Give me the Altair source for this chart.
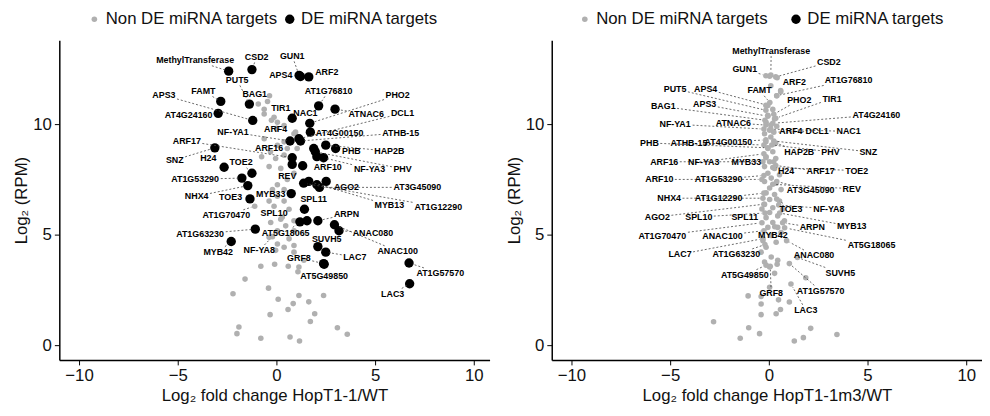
import math
import altair as alt
import pandas as pd

FONT = "Liberation Sans"
X_DOMAIN = [-11, 10.8]
Y_DOMAIN = [-0.67, 13.8]
W, H = 436, 324
CATS = ["Non DE miRNA targets", "DE miRNA targets"]

GENES = ["MethylTransferase", "CSD2", "GUN1", "APS4", "ARF2", "PUT5", "FAMT", "APS3", "BAG1",
         "AT1G76810", "TIR1", "NAC1", "AT4G24160", "PHO2", "ATNAC6", "DCL1", "AT4G00150",
         "ATHB-15", "NF-YA1", "ARF4", "ARF17", "ARF16", "PHB", "HAP2B", "SNZ", "H24", "TOE2",
         "NF-YA3", "PHV", "ARF10", "AT1G53290", "REV", "AGO2", "AT3G45090", "MYB13",
         "AT1G12290", "NHX4", "TOE3", "MYB33", "SPL11", "AT1G70470", "SPL10", "ARPN",
         "ANAC080", "ANAC100", "AT1G63230", "AT5G18065", "SUVH5", "MYB42", "NF-YA8", "GRF8",
         "LAC7", "AT1G57570", "LAC3", "AT5G49850"]

# ---------------- HopT1-1 / WT ----------------
L_FC = [-2.42, -1.24, 1.15, 1.22, 1.64, -1.37, -2.82, -1.20, -0.35,
        2.14, -0.62, 0.80, -2.95, 1.69, 2.97, 1.14, 1.72,
        1.22, 0.69, 0.89, 0.80, -0.30, 3.00, 2.50, -3.12, -2.65, -1.24,
        2.39, 1.97, 2.05, -1.75, 0.55, 2.52, 2.18, 1.64,
        1.38, -1.45, -1.34, 0.75, 1.42, -1.10, 0.30, 2.10,
        3.17, 2.94, -1.07, 1.19, 2.10, -2.29, -0.20, 2.39,
        2.50, 6.72, 6.75, 2.42]
L_RPM = [12.40, 12.47, 12.21, 12.16, 12.14, 10.91, 11.03, 10.17, 11.29,
         10.83, 10.68, 10.27, 10.49, 10.04, 10.68, 9.34, 9.64,
         9.24, 9.24, 9.57, 8.48, 8.75, 8.90, 9.05, 8.93, 8.05, 7.78,
         8.48, 8.75, 8.53, 7.56, 7.50, 7.41, 7.14, 7.41,
         7.33, 7.22, 6.62, 6.86, 6.15, 6.29, 5.80, 5.63,
         5.18, 5.45, 5.25, 5.58, 4.46, 4.69, 4.91, 3.69,
         4.21, 3.72, 2.78, 3.66]
L_DE = [1, 1, 1, 1, 1, 1, 1, 1, 0,
        1, 0, 1, 1, 1, 1, 1, 1,
        1, 1, 0, 1, 0, 1, 1, 1, 1, 1,
        1, 1, 1, 1, 0, 1, 1, 1,
        1, 1, 1, 1, 1, 0, 0, 1,
        1, 1, 1, 1, 1, 1, 0, 1,
        1, 1, 1, 1]
L_LAB_X = [-4.12, -1.00, 0.80, 0.22, 2.55, -1.99, -3.70, -5.70, -1.10,
           2.64, 0.22, 1.47, -4.45, 6.14, 4.55, 6.39, 3.20,
           6.30, -2.20, -0.04, -4.54, -0.37, 3.80, 5.72, -5.15, -3.45, -1.79,
           4.72, 6.39, 2.60, -4.12, 0.55, 3.55, 7.14, 5.72,
           8.20, -4.04, -2.32, -0.29, 1.89, -2.54, -0.12, 3.55,
           4.89, 6.14, -3.87, 0.47, 2.55, -2.95, -0.87, 1.14,
           3.97, 8.30, 5.89, 2.42]
L_LAB_Y = [12.89, 13.04, 13.09, 12.22, 12.35, 12.00, 11.50, 11.31, 11.35,
           11.50, 10.71, 10.50, 10.43, 11.31, 10.46, 10.50, 9.60,
           9.61, 9.64, 9.76, 9.24, 8.93, 8.78, 8.78, 8.38, 8.45, 8.27,
           7.98, 7.98, 8.04, 7.51, 7.67, 7.14, 7.14, 6.33,
           6.26, 6.74, 6.71, 6.86, 6.62, 5.88, 6.00, 5.92,
           5.08, 4.25, 5.03, 5.08, 4.81, 4.21, 4.29, 3.96,
           3.99, 3.25, 2.32, 3.13]
# unlabelled targets
L_OTHER_FC = [0.80, 1.33, 2.05, 1.55, 1.89,
              -0.92, -0.62, -0.12, 0.05, 0.02, 0.39, 0.97, 0.39, 0.05, -0.62, 0.55, 1.05,
              -0.75, -0.04, 0.39, -0.37, 0.22, 0.89, 0.05, 0.39, -0.20, 0.05, -0.37, 0.39,
              -0.12, 0.64, 0.22, 0.89, -0.29, 0.47, 0.05, 0.89, -0.37, 0.64, 0.05, 0.39,
              0.89, -0.04, 0.89, 1.39, 1.14, -0.45, -0.25,
              -0.79, -0.09, 0.60, 1.09, -1.59, -2.20, -0.40, 0.09, 1.14, 0.85, 1.64, 2.39,
              0.59, -0.32, 1.94, 1.72, -1.90, -2.00, -0.79, 0.69, 1.17, 3.09, 3.59]
L_OTHER_RPM = [8.18, 8.12, 7.26, 5.63, 8.90,
               10.91, 10.46, 10.31, 10.09, 9.82, 9.94, 9.64, 9.20, 9.05, 9.34, 8.90, 8.90,
               8.53, 8.45, 8.60, 8.08, 8.00, 7.78, 7.26, 7.04, 7.04, 6.74, 6.52, 6.52,
               6.29, 6.15, 5.70, 5.63, 5.55, 5.40, 5.18, 5.18, 4.88, 4.81, 4.58, 4.43,
               4.51, 4.29, 4.21, 3.84, 3.54, 11.03, 10.18,
               3.57, 3.66, 3.57, 3.32, 2.99, 2.33, 2.58, 2.08, 2.25, 1.88, 1.96, 2.25,
               1.61, 1.38, 1.42, 1.07, 0.82, 0.52, 0.31, 0.37, 0.19, 0.79, 0.49]
L_OTHER_DE = [1, 1, 1, 1, 1] + [0] * 66

# ---------------- HopT1-1m3 / WT ----------------
R_FC = [0.10, 0.35, -0.15, -0.05, 0.60, -0.15, 0.05, -0.05, -0.20,
        0.40, 0.35, 0.10, 0.20, 0.25, -0.15, 0.25, -0.15,
        -0.25, -0.25, 0.40, 0.35, -0.30, -0.05, 0.35, 0.25, 0.25, 0.20,
        -0.25, 0.15, -0.35, -0.25, 0.20, -0.25, 0.40, 0.55,
        -0.25, -0.30, 0.40, -0.15, -0.35, -0.35, -0.20, 0.70,
        0.90, -0.25, -0.20, 0.80, 1.45, 0.30, 0.50, 0.07,
        -0.30, 1.04, 1.12, -0.14]
R_RPM = [12.23, 12.14, 12.19, 10.85, 11.47, 10.63, 10.98, 10.36, 10.18,
         11.29, 10.27, 9.78, 10.04, 10.45, 9.96, 9.64, 9.29,
         9.06, 9.78, 9.91, 8.13, 8.30, 8.93, 9.15, 9.24, 8.30, 8.04,
         8.66, 9.06, 7.50, 7.68, 7.28, 6.38, 7.41, 5.98,
         6.88, 6.65, 6.61, 8.48, 6.16, 5.54, 5.98, 5.54,
         4.73, 5.18, 4.55, 5.31, 3.97, 5.36, 6.34, 3.57,
         4.82, 3.69, 2.77, 3.62]
R_LAB_X = [0.12, 3.04, -1.22, -3.20, 1.29, -4.75, -0.47, -3.25, -5.35,
           4.04, 3.20, 4.04, 5.45, 1.54, -1.80, 2.45, -2.05,
           -4.05, -4.75, 1.12, 2.62, -5.30, -6.05, 1.54, 5.04, 0.87, 4.45,
           -3.30, 3.12, -5.55, -2.55, 4.20, -5.65, 2.12, 4.20,
           -2.55, -5.05, 1.12, -1.14, -1.22, -5.40, -3.55, 2.20,
           2.29, -2.35, -1.65, 5.20, 3.62, 0.20, 3.04, 0.12,
           -4.50, 2.62, 1.87, -1.22]
R_LAB_Y = [13.33, 12.80, 12.50, 11.60, 11.90, 11.60, 11.53, 10.89, 10.80,
           12.00, 11.16, 9.67, 10.42, 11.10, 10.06, 9.67, 9.20,
           9.15, 10.00, 9.67, 7.86, 8.30, 9.15, 8.75, 8.75, 7.90, 7.90,
           8.30, 8.75, 7.50, 7.50, 7.08, 5.80, 7.00, 5.37,
           6.65, 6.65, 6.17, 8.30, 5.80, 4.96, 5.80, 5.33,
           4.06, 4.96, 4.11, 4.51, 3.27, 4.99, 6.17, 2.38,
           4.11, 2.46, 1.58, 3.17]
R_OTHER_FC = [0.04, 0.42, 0.10, 0.60, 0.40, -0.15, 0.20, -0.05, 0.29, -0.14, 0.10, 0.04,
              -0.22, 0.10, -0.15, 0.29, -0.05, 0.20, -0.14, 0.35, 0.04, -0.22, 0.29, -0.05,
              0.54, 0.12, -0.22, 0.37, 0.04, 0.62, -0.14, 0.29, 0.04, 0.54, -0.22, 0.20,
              0.70, 0.04, 0.45, -0.14, 0.79, 0.20, 0.45, -0.05, 0.62, 0.12, -0.30, 0.37,
              -0.14, -0.39, 0.12, -0.22, 0.45, 0.04, 0.29,
              1.87, -1.05, -0.39, 0.49, 1.04, -0.39, 0.59, 0.37, -0.39, -1.02, -0.47, -1.45,
              2.12, 1.75, 1.29, 3.45, -2.80, 0.04, 0.42]
R_OTHER_RPM = [12.17, 12.10, 11.74, 11.52, 11.29, 10.85, 10.67, 10.40, 10.24, 10.09, 9.96, 9.73,
               9.57, 9.42, 9.20, 9.12, 8.90, 8.75, 8.53, 8.45, 8.30, 8.08, 8.00, 7.78,
               7.71, 7.56, 7.41, 7.33, 7.11, 7.04, 6.89, 6.82, 6.59, 6.52, 6.37, 6.22,
               6.15, 6.00, 5.85, 5.77, 5.63, 5.55, 5.33, 5.33, 5.10, 4.96, 4.73, 4.66,
               4.43, 4.21, 3.99, 3.76, 3.84, 3.54, 3.25,
               3.05, 2.23, 2.20, 2.05, 1.95, 1.86, 1.61, 1.42, 1.38, 0.79, 0.52, 0.31,
               0.76, 0.34, 0.19, 0.48, 1.06, 2.62, 3.66]

# ---------------- helpers ----------------
CW = {**{c: w for c, w in zip("ABCDEFGHIJKLMNOPQRSTUVWXYZ",
                               [722, 722, 722, 722, 667, 611, 778, 722, 278, 556, 722, 611, 833,
                                722, 778, 667, 778, 722, 667, 611, 722, 667, 944, 667, 667, 611])},
      **{c: w for c, w in zip("abcdefghijklmnopqrstuvwxyz",
                               [556, 611, 556, 611, 556, 333, 611, 611, 278, 278, 556, 278, 889,
                                611, 611, 611, 611, 389, 556, 333, 611, 556, 778, 556, 556, 500])},
      **{d: 556 for d in "0123456789"}, "-": 333}
PX_X = W / (X_DOMAIN[1] - X_DOMAIN[0])
PX_Y = H / (Y_DOMAIN[1] - Y_DOMAIN[0])
LABEL_SIZE = 9
LEGEND_SIZE = 17


def text_w(s):
    return sum(CW.get(c, 600) for c in s) * LABEL_SIZE / 1000


def leader_segments(px, py, lx, ly):
    rows = []
    for g, a, b, c, d in zip(GENES, px, py, lx, ly):
        dx, dy = (a - c) * PX_X, (b - d) * PX_Y
        dist = math.hypot(dx, dy)
        hw, hh = text_w(g) / 2 + 1.5, 5.5
        if abs(dx) <= hw and abs(dy) <= hh:
            continue
        t = min(hw / abs(dx) if dx else 1e9, hh / abs(dy) if dy else 1e9)
        f = 1 - 3.5 / dist
        if (f - t) * dist < 4:
            continue
        rows.append({"x": c + (a - c) * t, "y": d + (b - d) * t,
                     "x2": c + (a - c) * f, "y2": d + (b - d) * f})
    return pd.DataFrame(rows)


def panel(fc, rpm, de, ofc, orpm, ode, lx, ly, xtitle, legend_x, col_pad):
    pts = pd.DataFrame({"x": list(ofc) + list(fc), "y": list(orpm) + list(rpm),
                        "cat": [CATS[v] for v in list(ode) + list(de)]})
    pts["order"] = [0 if c == CATS[0] else 1 for c in pts["cat"]]
    pts = pts.sort_values("order", kind="stable")
    labs = pd.DataFrame({"gene": GENES, "lx": lx, "ly": ly})
    segs = leader_segments(fc, rpm, lx, ly)

    xs = alt.Scale(domain=X_DOMAIN, nice=False, zero=False)
    ys = alt.Scale(domain=Y_DOMAIN, nice=False, zero=False)
    xax = alt.Axis(values=[-10, -5, 0, 5, 10], title=xtitle, titlePadding=4)
    yax = alt.Axis(values=[0, 5, 10], title="Log₂ (RPM)", titlePadding=2)
    leg = alt.Legend(title=None, orient="none", direction="horizontal",
                     legendX=legend_x, legendY=-30, symbolType="circle",
                     symbolStrokeWidth=0, labelFontSize=LEGEND_SIZE, labelFont=FONT,
                     labelColor="#111111", labelLimit=400, labelOffset=3,
                     columnPadding=col_pad)

    points = alt.Chart(pts).mark_circle(opacity=1).encode(
        x=alt.X("x:Q", scale=xs, axis=xax),
        y=alt.Y("y:Q", scale=ys, axis=yax),
        color=alt.Color("cat:N", scale=alt.Scale(domain=CATS, range=["#b0b0b0", "#000000"]),
                        legend=leg),
        size=alt.Size("cat:N", scale=alt.Scale(domain=CATS, range=[32, 90]), legend=leg),
    )
    seg = alt.Chart(segs).mark_rule(strokeDash=[2, 2], color="#444444", strokeWidth=0.8).encode(
        x=alt.X("x:Q", scale=xs), y=alt.Y("y:Q", scale=ys), x2="x2:Q", y2="y2:Q")
    text = alt.Chart(labs).mark_text(fontWeight="bold", fontSize=LABEL_SIZE, font=FONT,
                                     color="#000000").encode(
        x=alt.X("lx:Q", scale=xs), y=alt.Y("ly:Q", scale=ys), text="gene:N")
    return alt.layer(points, seg, text).properties(width=W, height=H)


left = panel(L_FC, L_RPM, L_DE, L_OTHER_FC, L_OTHER_RPM, L_OTHER_DE, L_LAB_X, L_LAB_Y,
             "Log₂ fold change HopT1-1/WT", 27, 3)
right = panel(R_FC, R_RPM, [0] * len(GENES), R_OTHER_FC, R_OTHER_RPM, [0] * len(R_OTHER_FC),
              R_LAB_X, R_LAB_Y, "Log₂ fold change HopT1-1m3/WT", 25, 19)

chart = (alt.hconcat(left, right, spacing=16)
         .resolve_scale(color="independent", size="independent")
         .resolve_legend(color="independent", size="independent")
         .properties(padding={"left": 5, "top": 0, "right": 0, "bottom": 0})
         .configure_view(stroke=None)
         .configure_legend(labelFontSize=LEGEND_SIZE, labelFont=FONT, labelLimit=400)
         .configure_axis(grid=False, domainColor="#000000", domainWidth=1.5, tickColor="#000000",
                         tickWidth=1, tickSize=5, labelFontSize=17, titleFontSize=17,
                         labelFont=FONT, titleFont=FONT, labelColor="#111111",
                         titleColor="#111111", titleFontWeight="normal", labelPadding=3))

chart.save("out.html", embed_options={"renderer": "svg", "actions": False})
